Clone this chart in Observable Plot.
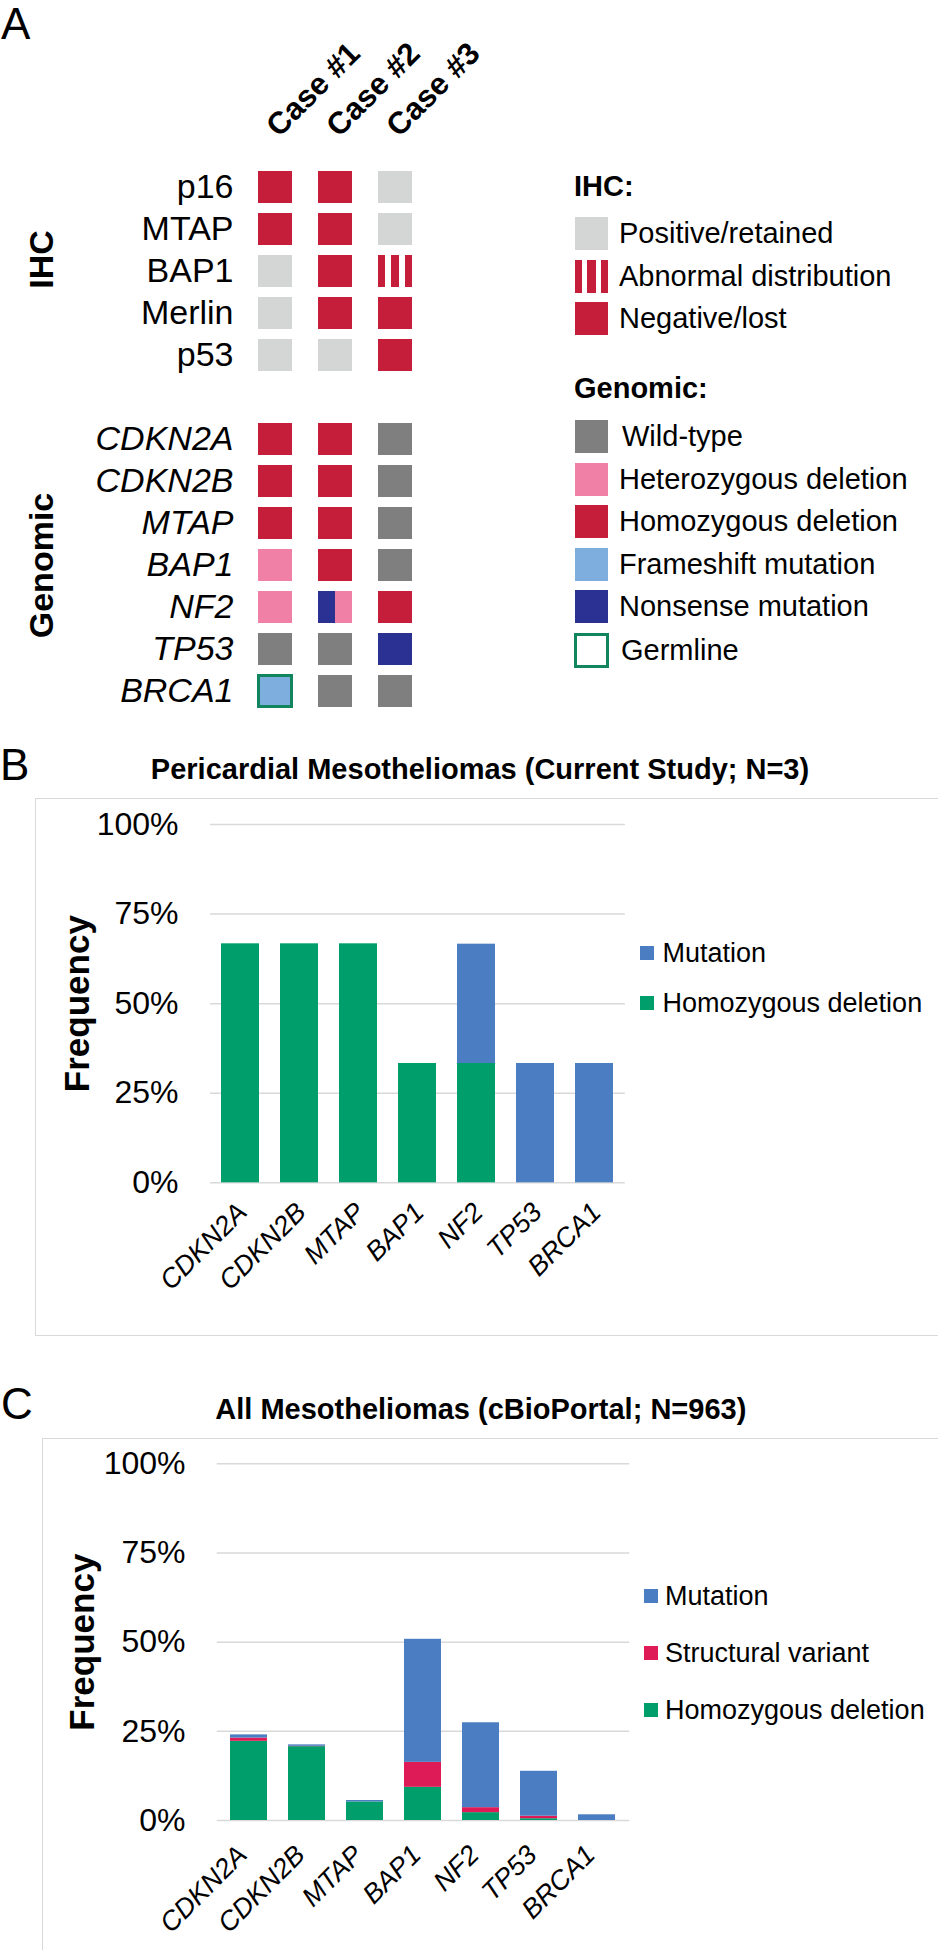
<!DOCTYPE html>
<html><head><meta charset="utf-8">
<script src="https://cdn.jsdelivr.net/npm/d3@7"></script>
<script src="https://cdn.jsdelivr.net/npm/@observablehq/plot@0.6"></script>
<style>
body{margin:0;background:#fff;font-family:Arial,"Liberation Sans",Helvetica,sans-serif;color:#000}
#page{position:relative;width:938px;height:1950px;overflow:hidden;background:#fff}
.abs{position:absolute;white-space:nowrap}
.box{position:absolute;border:1.5px solid #d9d9d9;box-sizing:border-box}
</style></head>
<body>
<svg width="0" height="0" style="position:absolute">
  <defs>
    <linearGradient id="abnormalStripes" x1="0" x2="1" y1="0" y2="0">
      <stop offset="0" stop-color="#C41E3A"/><stop offset="0.2" stop-color="#C41E3A"/>
      <stop offset="0.2" stop-color="#fff"/><stop offset="0.37" stop-color="#fff"/>
      <stop offset="0.37" stop-color="#C41E3A"/><stop offset="0.63" stop-color="#C41E3A"/>
      <stop offset="0.63" stop-color="#fff"/><stop offset="0.8" stop-color="#fff"/>
      <stop offset="0.8" stop-color="#C41E3A"/><stop offset="1" stop-color="#C41E3A"/>
    </linearGradient>
    <linearGradient id="nf2Split" x1="0" x2="1" y1="0" y2="0">
      <stop offset="0" stop-color="#2B3192"/><stop offset="0.5" stop-color="#2B3192"/>
      <stop offset="0.5" stop-color="#F080A5"/><stop offset="1" stop-color="#F080A5"/>
    </linearGradient>
  </defs>
</svg>
<div id="page"></div>
<script>
// ---------------- DATA ----------------
const cases = ["Case #1", "Case #2", "Case #3"];
const ihcMarkers = ["p16", "MTAP", "BAP1", "Merlin", "p53"];
const genomicGenes = ["CDKN2A", "CDKN2B", "MTAP", "BAP1", "NF2", "TP53", "BRCA1"];

const ihcCase1 = ["Negative/lost", "Negative/lost", "Positive/retained", "Positive/retained", "Positive/retained"];
const ihcCase2 = ["Negative/lost", "Negative/lost", "Negative/lost", "Negative/lost", "Positive/retained"];
const ihcCase3 = ["Positive/retained", "Positive/retained", "Abnormal distribution", "Negative/lost", "Negative/lost"];

const genCase1 = ["Homozygous deletion", "Homozygous deletion", "Homozygous deletion", "Heterozygous deletion", "Heterozygous deletion", "Wild-type", "Frameshift mutation"];
const genCase2 = ["Homozygous deletion", "Homozygous deletion", "Homozygous deletion", "Homozygous deletion", "Nonsense mutation + Heterozygous deletion", "Wild-type", "Wild-type"];
const genCase3 = ["Wild-type", "Wild-type", "Wild-type", "Wild-type", "Homozygous deletion", "Nonsense mutation", "Wild-type"];

const germlineCalls = [["Case #1", "BRCA1"]];

const ihcLegend = ["Positive/retained", "Abnormal distribution", "Negative/lost"];
const genomicLegend = ["Wild-type", "Heterozygous deletion", "Homozygous deletion", "Frameshift mutation", "Nonsense mutation", "Germline"];

const statusDomain = ["Positive/retained", "Abnormal distribution", "Negative/lost", "Wild-type", "Heterozygous deletion", "Homozygous deletion", "Frameshift mutation", "Nonsense mutation", "Nonsense mutation + Heterozygous deletion"];
const statusColors = ["#D4D5D5", "url(#abnormalStripes)", "#C41E3A", "#7F7F7F", "#F080A5", "#C41E3A", "#7DAEDE", "#2B3192", "url(#nf2Split)"];
const statusCss = {"Abnormal distribution": "linear-gradient(to right,#C41E3A 0 20%,#fff 20% 37%,#C41E3A 37% 63%,#fff 63% 80%,#C41E3A 80% 100%)"};

const barGenes = ["CDKN2A", "CDKN2B", "MTAP", "BAP1", "NF2", "TP53", "BRCA1"];
const yTicks = [0, 25, 50, 75, 100];

// Panel B: current study (N=3), percent
const studyHomDel = [66.7, 66.7, 66.7, 33.3, 33.3, 0, 0];
const studyMutation = [0, 0, 0, 0, 33.3, 33.3, 33.3];

// Panel C: cBioPortal (N=963), percent
const cbioHomDel = [22.2, 20.7, 5.2, 9.3, 2.2, 0.5, 0];
const cbioStructural = [0.9, 0.1, 0, 7.0, 1.4, 0.7, 0];
const cbioMutation = [0.9, 0.4, 0.4, 34.5, 23.8, 12.6, 1.6];

const alterationTypes = ["Homozygous deletion", "Structural variant", "Mutation"];
const alterationColors = ["#009E6A", "#DE1B57", "#4A7DC1"];

// ---------------- HELPERS ----------------
const FONT = 'Arial, "Liberation Sans", Helvetica, sans-serif';
const page = document.getElementById("page");
function place(el, left, top) {
  const w = document.createElement("div");
  w.className = "abs";
  w.style.left = left + "px"; w.style.top = top + "px";
  w.appendChild(el); page.appendChild(w); return w;
}
function textDiv(txt, left, baseline, size, opts = {}) {
  const d = document.createElement("div");
  d.className = "abs";
  d.textContent = txt;
  d.style.fontSize = size + "px";
  d.style.lineHeight = size + "px";
  d.style.fontWeight = opts.weight || "normal";
  d.style.top = (baseline - 0.8465 * size) + "px";
  if (opts.center != null) {
    d.style.left = (opts.center - 500) + "px"; d.style.width = "1000px"; d.style.textAlign = "center";
  } else d.style.left = left + "px";
  page.appendChild(d); return d;
}
function legendRow(label, swLeft, swTop, swSize, txtLeft, size, fill, opts = {}) {
  const s = document.createElement("div");
  s.className = "abs";
  s.style.left = swLeft + "px"; s.style.top = swTop + "px";
  s.style.width = swSize + "px"; s.style.height = swSize + "px";
  s.style.boxSizing = "border-box";
  if (opts.outline) { s.style.border = "3px solid " + opts.outline; s.style.background = "#fff"; }
  else s.style.background = fill;
  page.appendChild(s);
  const t = document.createElement("div");
  t.className = "abs";
  t.textContent = label;
  t.style.fontSize = size + "px"; t.style.lineHeight = size + "px";
  t.style.left = txtLeft + "px"; t.style.top = (swTop + swSize / 2 - size / 2) + "px";
  page.appendChild(t);
  return t;
}
const colorOf = s => statusCss[s] || statusColors[statusDomain.indexOf(s)];

// ---------------- PANEL A ----------------
const ihcRows = ihcMarkers.map(m => "IHC|" + m);
const genRows = genomicGenes.map(g => "GEN|" + g);
const rowDomain = [...ihcRows, "gap", ...genRows];
const ihcByCase = [ihcCase1, ihcCase2, ihcCase3];
const genByCase = [genCase1, genCase2, genCase3];
const gridCells = [];
cases.forEach((c, ci) => {
  ihcRows.forEach((k, i) => gridCells.push({case: c, key: k, status: ihcByCase[ci][i]}));
  genRows.forEach((k, i) => gridCells.push({case: c, key: k, status: genByCase[ci][i]}));
});
const germlineCells = germlineCalls.map(([c, g]) => ({case: c, key: "GEN|" + g}));
const groups = [{first: ihcRows[0], last: ihcRows[ihcRows.length - 1]}, {first: genRows[0], last: genRows[genRows.length - 1]}];
const rowLabel = k => k.split("|")[1];

const plotA = Plot.plot({
  width: 938, height: 720,
  marginTop: 158.2, marginBottom: 1.2, marginLeft: 230.5, marginRight: 499.5,
  x: {type: "band", domain: cases, padding: 0.438, axis: null},
  y: {type: "band", domain: rowDomain, padding: 0.244, axis: null},
  color: {domain: statusDomain, range: statusColors},
  style: {fontFamily: FONT, background: "transparent", overflow: "visible"},
  marks: [
    Plot.cell(gridCells, {x: "case", y: "key", fill: "status"}),
    Plot.cell(germlineCells, {x: "case", y: "key", fill: "none", stroke: "#12855E", strokeWidth: 3, inset: 0.5}),
    Plot.text(ihcRows, {y: d => d, text: rowLabel, frameAnchor: "left", textAnchor: "end", dx: 2.5, fontSize: 34}),
    Plot.text(genRows, {y: d => d, text: rowLabel, frameAnchor: "left", textAnchor: "end", dx: 2.5, fontSize: 34, fontStyle: "italic"}),
    Plot.text(cases, {x: d => d, text: d => d, frameAnchor: "top", rotate: -45, textAnchor: "start", lineAnchor: "bottom", dx: 3.4, dy: -20.5, fontSize: 31, fontWeight: "bold"}),
    Plot.ruleX(groups, {y1: "first", y2: "last", dx: -265.5, stroke: "#000", strokeWidth: 4.5}),
    Plot.text(["IHC"], {y: () => ihcRows[2], text: d => d, frameAnchor: "left", rotate: -90, textAnchor: "middle", lineAnchor: "bottom", dx: -178.5, dy: -12, fontSize: 34, fontWeight: "bold"}),
    Plot.text(["Genomic"], {y: () => genRows[3], text: d => d, frameAnchor: "left", rotate: -90, textAnchor: "middle", lineAnchor: "bottom", dx: -178.5, fontSize: 34, fontWeight: "bold"})
  ]
});
place(plotA, 0, 0);
textDiv("A", 1, 39, 44);

// Legend A
textDiv("IHC:", 574, 197, 29, {weight: "bold"});
ihcLegend.forEach((s, i) => legendRow(s, 575, 217.4 + i * 42.5, 33, 619, 29, colorOf(s)));
textDiv("Genomic:", 574, 399, 29, {weight: "bold"});
genomicLegend.forEach((s, i) => {
  if (s === "Germline") legendRow(s, 574, 632 + 0.5, 35, 621, 29, null, {outline: "#12855E"});
  else legendRow(s, 575, 420 + i * 42.5, 33, s === "Wild-type" ? 622 : 619, 29, colorOf(s));
});

// ---------------- BAR CHART HELPER ----------------
function stackedChart(rows, m) {
  return Plot.plot({
    width: 938, height: m.height,
    marginTop: m.top, marginBottom: m.bottom, marginLeft: m.left, marginRight: m.right,
    x: {type: "band", domain: barGenes, paddingInner: 0.356, paddingOuter: 0.178, axis: null},
    y: {domain: [0, 1], axis: null},
    color: {domain: alterationTypes, range: alterationColors},
    style: {fontFamily: FONT, background: "transparent", overflow: "visible"},
    marks: [
      Plot.ruleY(yTicks, {y: d => d / 100, stroke: "#D9D9D9", strokeWidth: 1.5}),
      Plot.barY(rows, {x: "gene", y: "value", fill: "type"}),
      Plot.text(yTicks, {y: d => d / 100, text: d => d + "%", frameAnchor: "left", textAnchor: "end", dx: -m.tickPad, fontSize: 32}),
      Plot.text(barGenes, {x: d => d, text: d => d, frameAnchor: "bottom", rotate: -45, textAnchor: "end", lineAnchor: "bottom", dx: m.lx, dy: m.ly, fontSize: 27, fontStyle: "italic"}),
      Plot.text(["Frequency"], {text: d => d, frameAnchor: "left", rotate: -90, textAnchor: "middle", lineAnchor: "bottom", dx: m.fx, fontSize: 35, fontWeight: "bold"})
    ]
  });
}

// ---------------- PANEL B ----------------
const studyRows = barGenes.flatMap((g, i) => [
  {gene: g, type: "Homozygous deletion", value: studyHomDel[i] / 100},
  {gene: g, type: "Mutation", value: studyMutation[i] / 100}
]);
const boxB = document.createElement("div"); boxB.className = "box";
boxB.style.left = "35px"; boxB.style.top = "798px"; boxB.style.width = "940px"; boxB.style.height = "538px";
page.appendChild(boxB);
textDiv("B", 0, 780, 44);
textDiv("Pericardial Mesotheliomas (Current Study; N=3)", 0, 780, 29, {weight: "bold", center: 480});
const plotB = stackedChart(studyRows, {height: 545, top: 34, bottom: 152.7, left: 210, right: 313.2, tickPad: 32, lx: 8, ly: 31, fx: -122});
place(plotB, 0, 790);
["Mutation", "Homozygous deletion"].forEach((s, i) =>
  legendRow(s, 640.2, 946 + i * 50, 14, 662.5, 27, alterationColors[alterationTypes.indexOf(s)]));

// ---------------- PANEL C ----------------
const cbioRows = barGenes.flatMap((g, i) => [
  {gene: g, type: "Homozygous deletion", value: cbioHomDel[i] / 100},
  {gene: g, type: "Structural variant", value: cbioStructural[i] / 100},
  {gene: g, type: "Mutation", value: cbioMutation[i] / 100}
]);
const boxC = document.createElement("div"); boxC.className = "box";
boxC.style.left = "41.7px"; boxC.style.top = "1438.3px"; boxC.style.width = "940px"; boxC.style.height = "600px";
page.appendChild(boxC);
textDiv("C", 1, 1419, 44);
textDiv("All Mesotheliomas (cBioPortal; N=963)", 0, 1419.3, 29, {weight: "bold", center: 480.8});
const plotC = stackedChart(cbioRows, {height: 510, top: 23.3, bottom: 130, left: 216.7, right: 308.8, tickPad: 31.7, lx: -0.5, ly: 36, fx: -123.7});
place(plotC, 0, 1440);
["Mutation", "Structural variant", "Homozygous deletion"].forEach((s, i) =>
  legendRow(s, 644.3, 1589.3 + i * 57, 13.7, 665, 27, alterationColors[alterationTypes.indexOf(s)]));
</script>
</body></html>
